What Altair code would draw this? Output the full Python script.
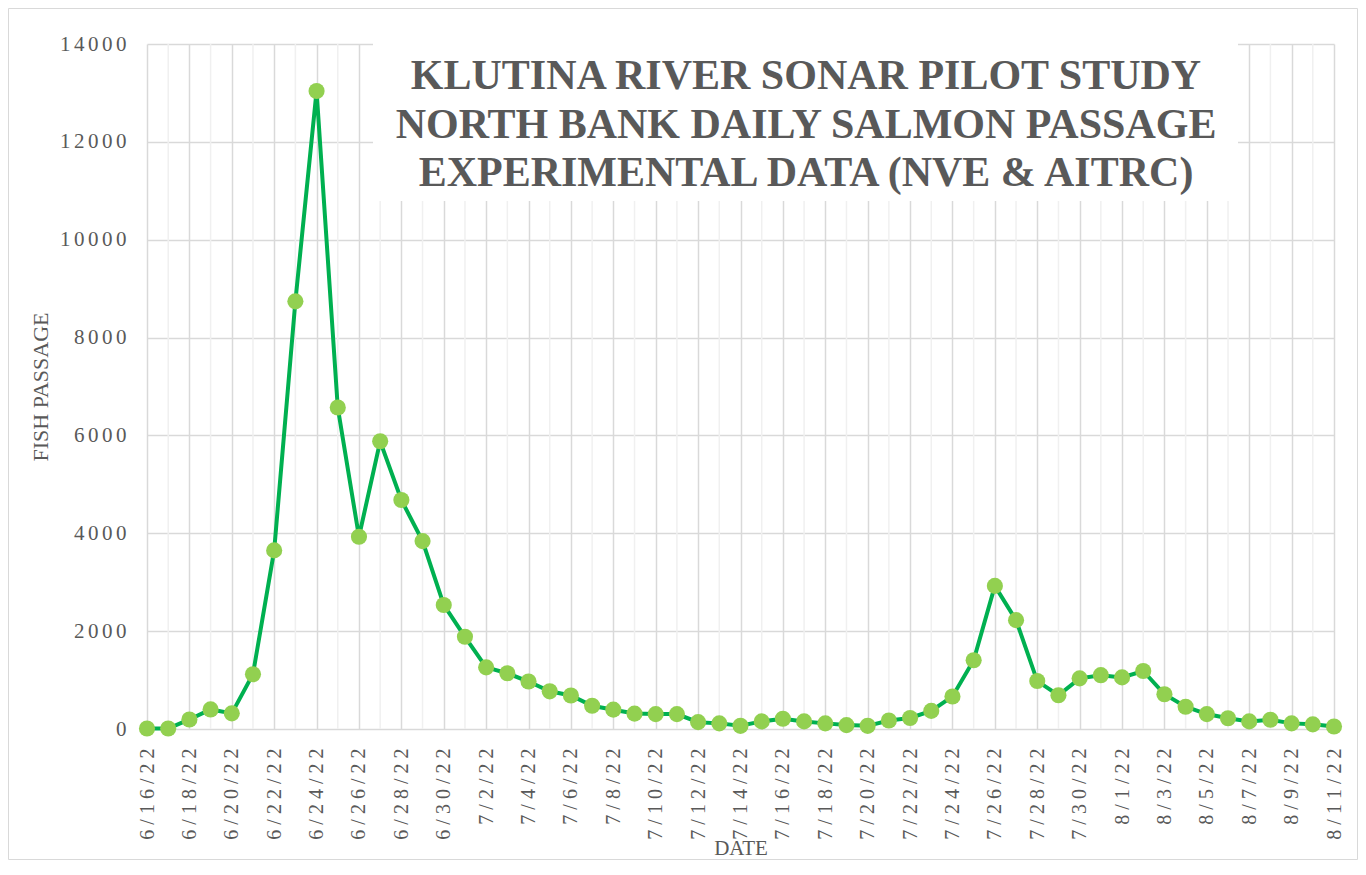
import altair as alt
import pandas as pd

dates = [
    "6/16/22", "6/17/22", "6/18/22", "6/19/22", "6/20/22", "6/21/22", "6/22/22", "6/23/22",
    "6/24/22", "6/25/22", "6/26/22", "6/27/22", "6/28/22", "6/29/22", "6/30/22",
    "7/1/22", "7/2/22", "7/3/22", "7/4/22", "7/5/22", "7/6/22", "7/7/22", "7/8/22",
    "7/9/22", "7/10/22", "7/11/22", "7/12/22", "7/13/22", "7/14/22", "7/15/22", "7/16/22",
    "7/17/22", "7/18/22", "7/19/22", "7/20/22", "7/21/22", "7/22/22", "7/23/22", "7/24/22",
    "7/25/22", "7/26/22", "7/27/22", "7/28/22", "7/29/22", "7/30/22", "7/31/22",
    "8/1/22", "8/2/22", "8/3/22", "8/4/22", "8/5/22", "8/6/22", "8/7/22", "8/8/22",
    "8/9/22", "8/10/22", "8/11/22",
]
passage = [
    10, 10, 195, 400, 320, 1120, 3650, 8740, 13040, 6570, 3930, 5880, 4680, 3840, 2535,
    1885, 1260, 1140, 970, 770, 685, 475, 395, 315, 305, 305, 140, 115, 65, 155, 210,
    155, 115, 80, 65, 175, 225, 370, 665, 1405, 2925, 2225, 980, 690, 1035, 1100,
    1055, 1185, 710, 455, 305, 220, 155, 190, 115, 95, 50,
]
label_dates = dates[::2]
minor_dates = dates[1::2]
y_ticks = [0, 2000, 4000, 6000, 8000, 10000, 12000, 14000]
title_lines = [
    "KLUTINA RIVER SONAR PILOT STUDY",
    "NORTH BANK DAILY SALMON PASSAGE",
    "EXPERIMENTAL DATA (NVE & AITRC)",
]

df = pd.DataFrame({"date": dates, "passage": passage})
minor_df = pd.DataFrame({"date": minor_dates})
one = pd.DataFrame({"k": [0]})

TXT = "#595959"
GRID = "#d9d9d9"
FONT = "Liberation Serif"
SP_X = "\u2005"
SP_Y = "\u2006"

xscale = alt.Scale(type="point", padding=0, domain=dates)
yscale = alt.Scale(domain=[0, 14000])

x_axis = alt.Axis(
    values=label_dates,
    labelAngle=270,
    labelAlign="right",
    labelBaseline="middle",
    labelExpr=f"join(split(datum.label, ''), '{SP_X}')",
    labelFont=FONT,
    labelFontSize=20,
    labelColor=TXT,
    labelPadding=19,
    labelOverlap=False,
    ticks=False,
    domain=False,
    grid=True,
    gridColor=GRID,
    gridWidth=1.5,
    title="DATE",
    titleFont=FONT,
    titleFontSize=21,
    titleFontWeight="normal",
    titleColor=TXT,
    titleY=125,
    titleBaseline="alphabetic",
)
y_axis = alt.Axis(
    values=y_ticks,
    format="d",
    labelExpr=f"join(split(datum.label, ''), '{SP_Y}')",
    labelFont=FONT,
    labelFontSize=21,
    labelColor=TXT,
    labelPadding=21,
    ticks=False,
    domain=False,
    grid=True,
    gridColor=GRID,
    gridWidth=1.5,
    title="FISH PASSAGE",
    titleFont=FONT,
    titleFontSize=22,
    titleFontWeight="normal",
    titleColor=TXT,
    titleAngle=270,
    titleX=-107,
    titleY=342.5,
    titleAlign="center",
    titleBaseline="middle",
)

x_enc = alt.X("date:N", scale=xscale, axis=x_axis)
y_enc = alt.Y("passage:Q", scale=yscale, axis=y_axis)

minor = alt.Chart(minor_df).mark_rule(color="#f0f0f0", strokeWidth=1.5).encode(x=x_enc)

box = alt.Chart(one).mark_rect(color="white").encode(
    x=alt.value(226), x2=alt.value(1091), y=alt.value(-4), y2=alt.value(157)
)

title = alt.Chart(one).mark_text(
    font=FONT, fontSize=42, fontWeight="bold", color=TXT,
    align="center", baseline="middle", lineHeight=48.5,
).encode(x=alt.value(659), y=alt.value(32), text=alt.value(title_lines))

line = alt.Chart(df).mark_line(color="#00B050", strokeWidth=4).encode(x=x_enc, y=y_enc)
pts = alt.Chart(df).mark_circle(color="#92D050", size=260, opacity=1).encode(x=x_enc, y=y_enc)

border = alt.Chart(one).mark_rect(fillOpacity=0, stroke=GRID, strokeWidth=1).encode(
    x=alt.value(-138.5), x2=alt.value(1210.5), y=alt.value(-35.5), y2=alt.value(815.5)
)

chart = alt.layer(minor, box, title, line, pts, border).properties(
    width=1187,
    height=685,
    autosize=alt.AutoSizeParams(type="none"),
    padding={"left": 139, "top": 36, "right": 24, "bottom": 131},
    background="white",
).configure_view(strokeWidth=0)

chart.save("out.html", embed_options={"renderer": "svg", "actions": False})
